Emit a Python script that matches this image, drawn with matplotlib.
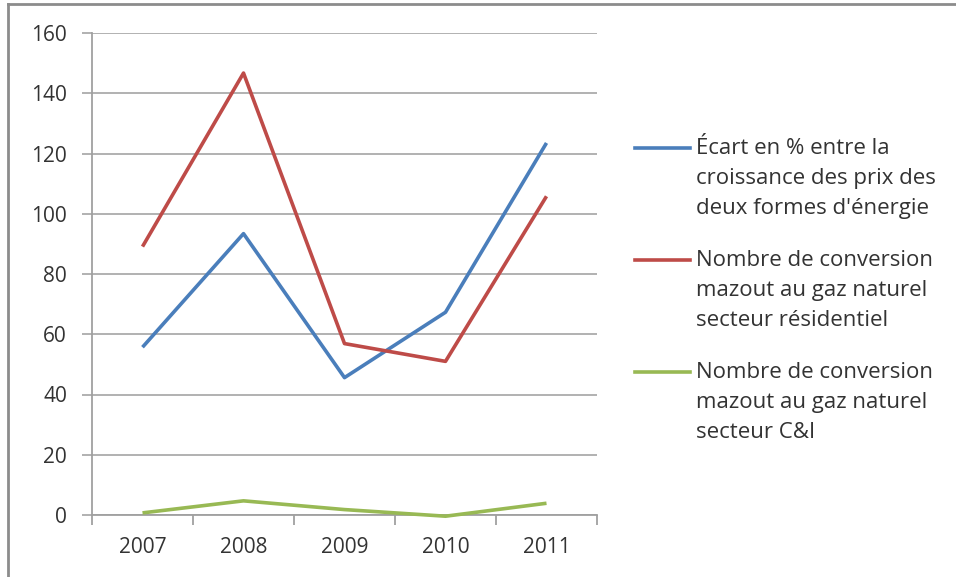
import matplotlib.pyplot as plt
from matplotlib.lines import Line2D

years = ['2007', '2008', '2009', '2010', '2011']
ecart_prix = [55.7, 93.4, 45.6, 67.3, 123.5]
conv_residentiel = [89.1, 146.7, 56.9, 51.0, 105.8]
conv_ci = [0.7, 4.7, 1.8, -0.4, 3.9]

labels = [
    "Écart en % entre la\ncroissance des prix des\ndeux formes d'énergie",
    "Nombre de conversion\nmazout au gaz naturel\nsecteur résidentiel",
    "Nombre de conversion\nmazout au gaz naturel\nsecteur C&I",
]
colors = ['#4a7ebb', '#be4b48', '#98b954']

plt.rcParams['font.family'] = ['Open Sans', 'DejaVu Sans']

W, H = 956, 577
fig = plt.figure(figsize=(W / 100, H / 100), dpi=100)
ax = fig.add_axes([92 / W, 1 - 515 / H, (597 - 92) / W, (515 - 33) / H])

x = range(len(years))
for vals, c in zip([ecart_prix, conv_residentiel, conv_ci], colors):
    ax.plot(x, vals, color=c, lw=2.6, clip_on=False,
            solid_capstyle='butt', zorder=3)

ax.set_xlim(-0.5, len(years) - 0.5)
ax.set_ylim(0, 160)
ax.set_yticks(range(0, 161, 20))
ax.set_xticks(list(x))
ax.set_xticklabels(years)
ax.set_xticks([i - 0.5 for i in range(len(years) + 1)], minor=True)

grid_c = '#ababab'
ax.yaxis.grid(True, color=grid_c, lw=1.3)
ax.set_axisbelow(True)
for s in ['top', 'right']:
    ax.spines[s].set_visible(False)
for s in ['left', 'bottom']:
    ax.spines[s].set_color('#a0a0a0')
    ax.spines[s].set_linewidth(1.3)

ax.tick_params(axis='y', length=7, width=1.3, color=grid_c, pad=11,
               labelsize=15, labelcolor='#333333')
ax.tick_params(axis='x', which='major', length=0, pad=16,
               labelsize=15, labelcolor='#333333')
ax.tick_params(axis='x', which='minor', length=7, width=1.3, color='#a0a0a0')

# legend: handle beside the first line of each label
entry_y = [148, 260, 372]
for yy, c, lab in zip(entry_y, colors, labels):
    fy = 1 - yy / H
    fig.add_artist(Line2D([635 / W, 690 / W], [fy, fy], color=c, lw=2.6))
    fig.text(696 / W, 1 - (yy - 10) / H, lab, ha='left', va='top',
             fontsize=16, color='#333333', linespacing=1.55)

# outer frame (only top and left edges visible)
frame_c = '#8c8c8c'
fig.add_artist(Line2D([8 / W, 8 / W], [0, 1 - 4 / H], color=frame_c, lw=2))
fig.add_artist(Line2D([8 / W, 1], [1 - 4 / H, 1 - 4 / H], color=frame_c, lw=2))

fig.savefig('out.png', dpi=100, facecolor='white')
